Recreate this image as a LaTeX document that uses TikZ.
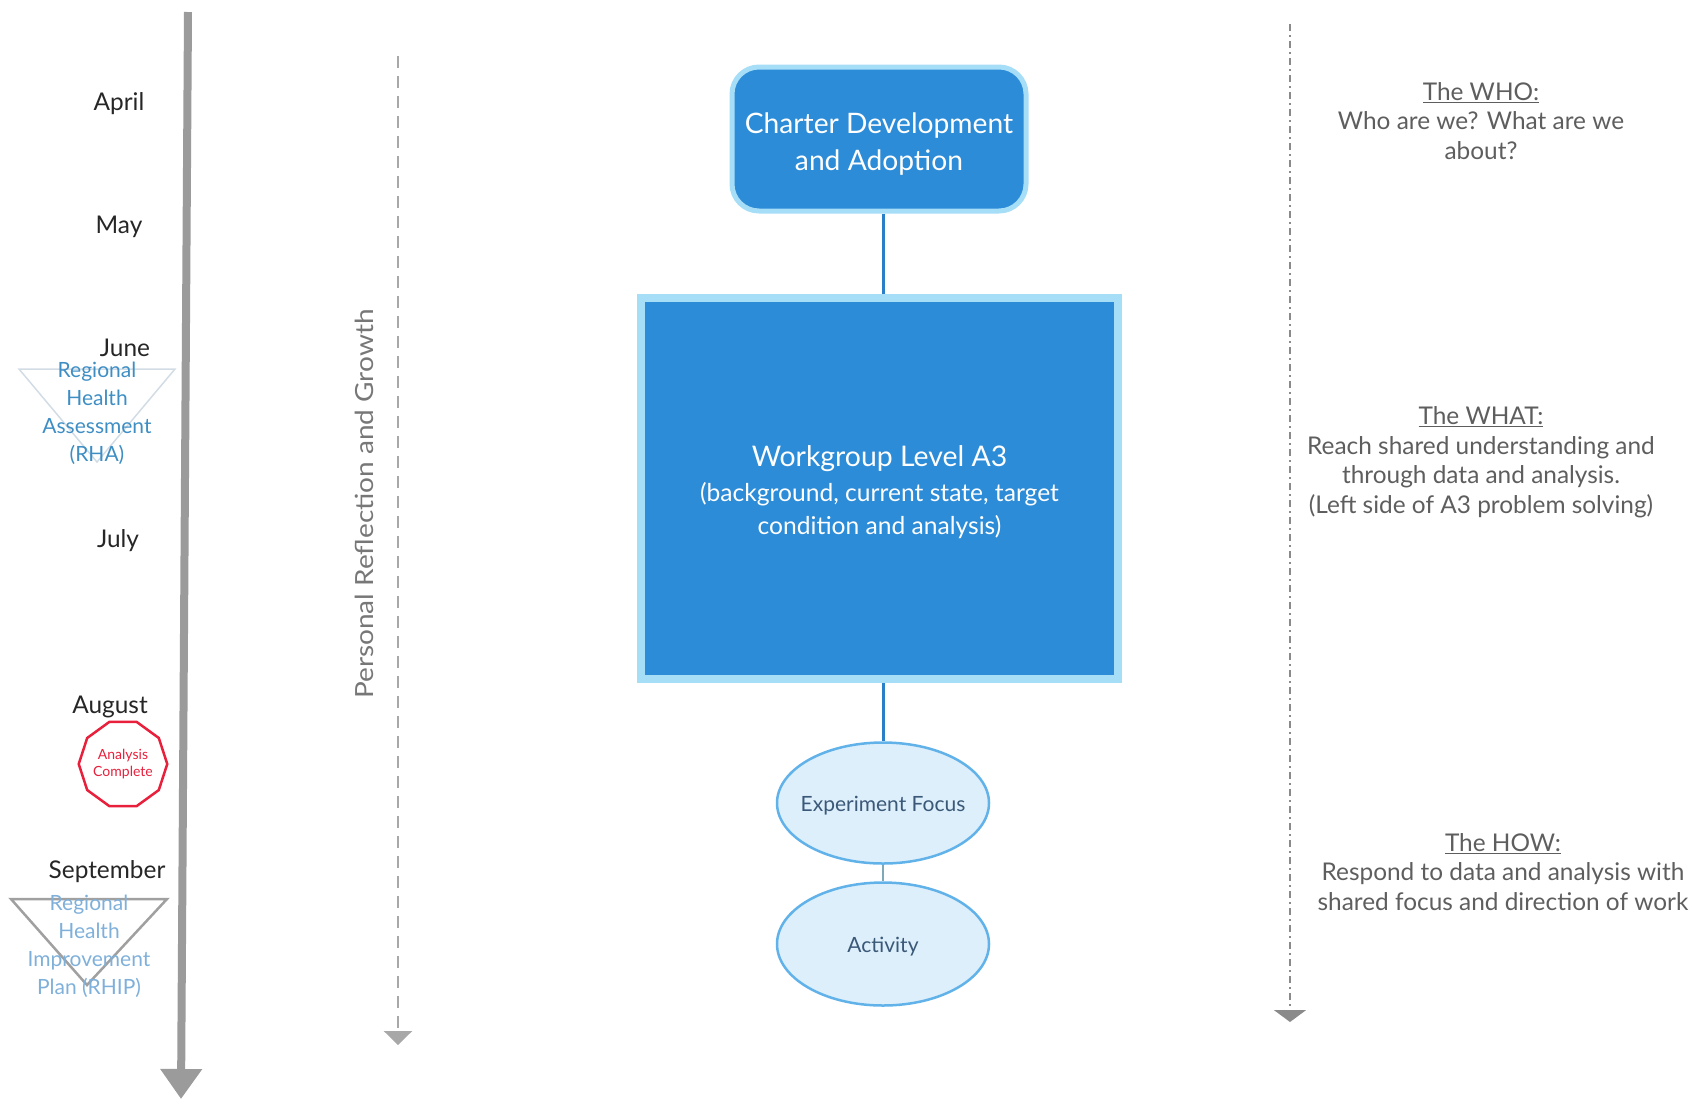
\documentclass[tikz,border=0pt]{standalone}
\usepackage{fontspec}
\setmainfont{Lato}
\usetikzlibrary{shapes.geometric,arrows.meta}
\definecolor{tlgray}{HTML}{9B9B9B}
\definecolor{boxblue}{HTML}{2C8CD8}
\definecolor{glow}{HTML}{A6DDF7}
\definecolor{linkblue}{HTML}{2A80C8}
\definecolor{ellfill}{HTML}{DDEFFB}
\definecolor{ellborder}{HTML}{62B2EA}
\definecolor{elltext}{HTML}{3A5878}
\definecolor{acred}{HTML}{E8203C}
\definecolor{rhatext}{HTML}{3E8EC4}
\definecolor{rhiptext}{HTML}{7FB0DA}
\definecolor{righttext}{HTML}{5E5E5E}
\definecolor{dashgray}{HTML}{A8A8A8}
\definecolor{rhatri}{HTML}{D2DCE4}
\definecolor{rhiptri}{HTML}{A0A0A0}
\definecolor{prtext}{HTML}{777777}
\definecolor{rdash}{HTML}{8A8A8A}
\definecolor{smalllink}{HTML}{7FA8B8}
\newcommand{\liftedlines}[2]{\raisebox{#1}[\height][\depth]{\begin{tabular}{@{}c@{}}#2\end{tabular}}}
\newcommand{\liftedword}[2]{\raisebox{#1}[\height][\depth]{\makebox[0pt][c]{#2}}}
\begin{document}
\begin{tikzpicture}[x=1pt,y=-1pt,
  monthlabel/.style={font=\fontsize{24.4}{29}\selectfont, text=black!85, inner sep=0pt},
  milestone/.style={align=center, font=\fontsize{21}{28}\selectfont, inner sep=0pt},
  bluebox/.style={fill=boxblue, draw=glow, text=white, align=center},
  ellnode/.style={ellipse, fill=ellfill, draw=ellborder, line width=2.5pt, text=elltext, font=\fontsize{21}{25}\selectfont, minimum width=212pt},
  sidetext/.style={align=center, text=righttext, font=\fontsize{24.4}{29.5}\selectfont, inner sep=0pt},
  link/.style={draw=linkblue, line width=3pt}
]
\useasboundingbox (0,0) rectangle (1693,1104);

% main timeline
\coordinate (tlTop) at (188,12);
\coordinate (tlBot) at (181,1099);
\draw[line width=8pt, color=tlgray, -{Triangle[width=40pt,length=30pt]}] (tlTop) -- (tlBot);

% months
\node[monthlabel] (apr) at (119,104) {April};
\node[monthlabel] (may) at (119,227) {May};
\node[monthlabel] (jun) at (125,348) {June};
\node[monthlabel] (jul) at (118,541) {July};
\node[monthlabel] (aug) at (110,707) {August};
\node[monthlabel] (sep) at (107,872) {September};

% RHA milestone
\draw[draw=rhatri, line width=1.5pt] (19,369) -- (175,369) -- (97,462) -- cycle;
\node[milestone, text=rhatext] (rha) at (97,413) {Regional\\Health\\Assessment\\(RHA)};

% Analysis complete
\node[regular polygon, regular polygon sides=10, minimum size=88pt, draw=acred, line width=2.5pt, text=acred, align=center, font=\fontsize{14}{17}\selectfont, inner sep=0pt] (ac) at (123,764) {Analysis\\Complete};

% RHIP milestone
\draw[draw=rhiptri, line width=2.5pt] (11,899) -- (167,899) -- (87,985) -- cycle;
\node[milestone, text=rhiptext] (rhip) at (89,946) {Regional\\Health\\Improvement\\Plan (RHIP)};

% personal reflection
\coordinate (prTop) at (398,56);
\coordinate (prBot) at (398,1045);
\draw[line width=2.5pt, color=dashgray, dash pattern=on 12pt off 8pt, -{Triangle[width=28pt,length=14pt]}] (prTop) -- (prBot);
\node[rotate=90, text=prtext, font=\fontsize{25}{30}\selectfont, inner sep=0pt] (prg) at (364,504) {\scalebox{1.12}[1]{Personal Reflection and Growth}};

% right dashed line
\coordinate (rTop) at (1290,24);
\coordinate (rBot) at (1290,1022);
\draw[line width=2pt, color=rdash, dash pattern=on 7pt off 4pt on 2pt off 4pt, -{Triangle[width=32pt,length=12pt]}] (rTop) -- (rBot);

% central flow
\node[bluebox, rounded corners=27pt, minimum width=294pt, minimum height=144pt, line width=5pt, font=\fontsize{28.2}{37}\selectfont] (charter) at (879,139) {\liftedlines{-5.4pt}{Charter Development\\and Adoption}};
\node[bluebox, minimum width=477pt, minimum height=381pt, line width=8pt, font=\fontsize{24.6}{33}\selectfont] (a3) at (879.5,488.5) {\liftedlines{-5.4pt}{{\fontsize{28.4}{34}\selectfont Workgroup Level A3}\\[2pt](background, current state, target\\condition and analysis)}};
\node[ellnode, minimum height=121pt] (ef) at (883,803) {\liftedword{-3pt}{Experiment Focus}};
\node[ellnode, minimum height=123pt] (act) at (883,944) {\liftedword{-3pt}{Activity}};

\draw[link] (charter.south -| ef) -- (a3.north -| ef);
\draw[link] (a3.south -| ef) -- (ef.north);
\draw[draw=smalllink, line width=2pt] (ef.south) -- (act.north);

% right texts
\node[sidetext] (who) at (1481,121) {\underline{The WHO:}\\Who are we? What are we\\about?};
\node[sidetext] (what) at (1481,462) {\underline{The WHAT:}\\Reach shared understanding and\\through data and analysis.\\(Left side of A3 problem solving)};
\node[sidetext] (how) at (1503,872) {\underline{The HOW:}\\Respond to data and analysis with\\shared focus and direction of work};
\end{tikzpicture}
\end{document}
